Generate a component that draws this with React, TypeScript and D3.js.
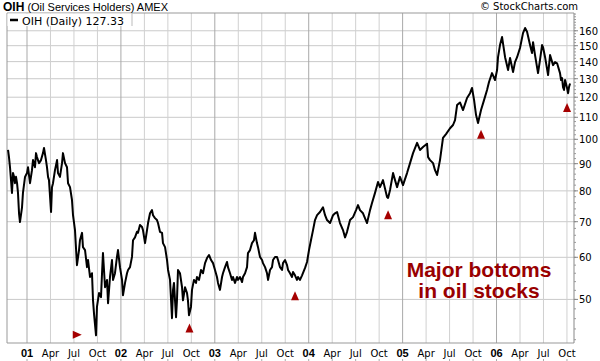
import * as d3 from "d3";

// OIH daily close: [decimal year, price]
const oih: [number, number][] = [
  [2000.798, 95.5], [2000.808, 92.6], [2000.819, 88.6], [2000.84, 79.3], [2000.851, 86.4],
  [2000.862, 85.0], [2000.872, 82.7], [2000.883, 85.0], [2000.894, 82.7], [2000.904, 79.3],
  [2000.915, 72.6], [2000.925, 69.9], [2000.947, 74.5], [2000.957, 79.3], [2000.979, 85.0],
  [2001.0, 86.4], [2001.011, 88.6], [2001.032, 82.7], [2001.053, 87.5], [2001.064, 91.4],
  [2001.085, 88.6], [2001.096, 94.2], [2001.106, 92.6], [2001.128, 90.2], [2001.149, 91.4],
  [2001.17, 94.2], [2001.181, 96.3], [2001.202, 91.4], [2001.213, 88.6], [2001.224, 85.0],
  [2001.234, 83.8], [2001.256, 73.0], [2001.266, 81.3], [2001.277, 82.7], [2001.298, 87.5],
  [2001.32, 91.4], [2001.33, 86.4], [2001.351, 85.0], [2001.373, 90.2], [2001.383, 94.2],
  [2001.405, 90.2], [2001.426, 88.6], [2001.437, 82.7], [2001.458, 81.3], [2001.479, 76.9],
  [2001.49, 72.0], [2001.511, 67.5], [2001.532, 58.0], [2001.554, 61.9], [2001.564, 64.6],
  [2001.586, 66.7], [2001.596, 62.7], [2001.618, 61.9], [2001.639, 57.5], [2001.65, 59.3],
  [2001.671, 55.1], [2001.692, 56.0], [2001.703, 49.8], [2001.714, 46.9], [2001.735, 42.8],
  [2001.745, 48.4], [2001.767, 51.4], [2001.788, 50.5], [2001.799, 56.0], [2001.809, 61.1],
  [2001.831, 52.7], [2001.852, 54.4], [2001.863, 49.2], [2001.884, 55.1], [2001.905, 59.3],
  [2001.916, 54.4], [2001.937, 56.0], [2001.958, 60.1], [2001.969, 61.9], [2001.99, 57.5],
  [2002.012, 54.4], [2002.022, 50.9], [2002.044, 53.7], [2002.065, 56.0], [2002.076, 56.8],
  [2002.097, 57.5], [2002.118, 60.1], [2002.129, 64.6], [2002.15, 65.4], [2002.171, 67.0],
  [2002.182, 66.7], [2002.203, 69.0], [2002.225, 68.4], [2002.235, 67.5], [2002.257, 63.8],
  [2002.278, 67.5], [2002.289, 69.6], [2002.31, 72.6], [2002.331, 73.6], [2002.342, 72.0],
  [2002.363, 71.1], [2002.384, 70.5], [2002.395, 69.6], [2002.416, 67.0], [2002.438, 66.7],
  [2002.448, 63.8], [2002.47, 62.7], [2002.491, 59.3], [2002.502, 56.8], [2002.523, 54.4],
  [2002.544, 46.1], [2002.555, 52.1], [2002.565, 53.7], [2002.587, 46.3], [2002.597, 49.8],
  [2002.608, 56.8], [2002.629, 56.0], [2002.651, 52.7], [2002.661, 49.8], [2002.683, 52.7],
  [2002.704, 51.4], [2002.714, 49.8], [2002.725, 46.7], [2002.746, 48.4], [2002.757, 52.1],
  [2002.778, 54.4], [2002.8, 53.7], [2002.81, 55.1], [2002.832, 54.4], [2002.853, 56.8],
  [2002.874, 56.0], [2002.896, 58.5], [2002.917, 59.8], [2002.938, 60.6], [2002.96, 59.3],
  [2002.981, 58.5], [2003.002, 56.8], [2003.023, 55.1], [2003.034, 53.7], [2003.055, 52.1],
  [2003.077, 55.1], [2003.087, 56.0], [2003.109, 57.5], [2003.13, 58.8], [2003.14, 57.5],
  [2003.162, 56.0], [2003.183, 54.4], [2003.194, 55.1], [2003.215, 53.7], [2003.236, 55.1],
  [2003.247, 54.4], [2003.268, 55.1], [2003.29, 53.9], [2003.3, 55.1], [2003.322, 56.0],
  [2003.343, 57.5], [2003.353, 61.1], [2003.375, 61.9], [2003.396, 63.8], [2003.417, 64.6],
  [2003.428, 66.7], [2003.449, 63.8], [2003.46, 62.7], [2003.481, 60.1], [2003.503, 59.3],
  [2003.513, 58.5], [2003.535, 57.5], [2003.556, 56.0], [2003.567, 54.4], [2003.588, 56.8],
  [2003.609, 57.5], [2003.62, 59.3], [2003.641, 60.1], [2003.662, 60.1], [2003.673, 59.3],
  [2003.694, 57.5], [2003.716, 56.8], [2003.726, 58.5], [2003.748, 59.3], [2003.769, 58.0],
  [2003.78, 56.8], [2003.801, 56.0], [2003.822, 55.1], [2003.833, 56.3], [2003.854, 55.5],
  [2003.875, 54.4], [2003.886, 55.1], [2003.907, 54.4], [2003.929, 55.5], [2003.961, 57.3],
  [2003.982, 58.8], [2004.003, 61.9], [2004.024, 64.6], [2004.046, 67.5], [2004.067, 70.5],
  [2004.089, 72.0], [2004.12, 73.0], [2004.152, 74.5], [2004.174, 72.0], [2004.195, 70.5],
  [2004.227, 69.6], [2004.259, 72.0], [2004.28, 72.6], [2004.302, 73.0], [2004.333, 69.6],
  [2004.365, 67.5], [2004.387, 65.4], [2004.408, 67.0], [2004.44, 70.5], [2004.472, 71.4],
  [2004.504, 73.6], [2004.525, 75.2], [2004.546, 73.6], [2004.578, 72.6], [2004.621, 69.6],
  [2004.653, 73.6], [2004.674, 75.9], [2004.706, 79.3], [2004.738, 83.1], [2004.759, 81.3],
  [2004.791, 83.8], [2004.834, 77.9], [2004.845, 77.6], [2004.866, 80.3], [2004.898, 86.4],
  [2004.919, 83.8], [2004.941, 81.3], [2004.972, 85.0], [2005.004, 82.0], [2005.047, 86.4],
  [2005.079, 90.2], [2005.111, 94.2], [2005.154, 98.5], [2005.185, 95.5], [2005.217, 96.7],
  [2005.26, 98.1], [2005.271, 92.6], [2005.292, 91.4], [2005.324, 90.2], [2005.345, 87.5],
  [2005.367, 85.7], [2005.398, 91.4], [2005.43, 100.6], [2005.462, 102.3], [2005.505, 104.9],
  [2005.537, 106.4], [2005.558, 108.7], [2005.58, 116.0], [2005.611, 117.3], [2005.643, 113.5],
  [2005.686, 119.6], [2005.718, 122.1], [2005.739, 124.9], [2005.761, 118.5], [2005.782, 111.1],
  [2005.803, 107.3], [2005.835, 113.5], [2005.867, 118.5], [2005.899, 123.8], [2005.92, 128.2],
  [2005.952, 133.2], [2005.984, 129.3], [2006.006, 135.0], [2006.016, 142.7], [2006.037, 150.4],
  [2006.059, 155.7], [2006.091, 142.7], [2006.123, 135.0], [2006.144, 142.2], [2006.176, 133.8],
  [2006.197, 139.7], [2006.219, 142.7], [2006.25, 148.5], [2006.282, 158.4], [2006.304, 161.9],
  [2006.325, 159.3], [2006.357, 150.4], [2006.378, 145.3], [2006.389, 152.3], [2006.41, 144.0],
  [2006.442, 133.2], [2006.463, 141.0], [2006.485, 150.4], [2006.495, 149.1], [2006.517, 142.7],
  [2006.549, 132.1], [2006.57, 144.0], [2006.602, 137.9], [2006.623, 139.7], [2006.645, 139.0],
  [2006.676, 133.2], [2006.687, 129.3], [2006.698, 130.4], [2006.708, 125.4], [2006.719, 123.8],
  [2006.73, 129.3], [2006.751, 124.9], [2006.762, 122.1], [2006.772, 125.4], [2006.783, 127.33],
];

// red markers under the major bottoms: [decimal year, price]
const bottoms: [number, number][] = [
  [2001.53, 42.9],
  [2002.73, 44.1],
  [2003.854, 50.7],
  [2004.845, 72.0],
  [2005.835, 102.0],
  [2006.751, 114.5],
];

const priceTicks = [50, 60, 70, 80, 90, 100, 110, 120, 130, 140, 150, 160];
const years = [2001, 2002, 2003, 2004, 2005, 2006];
const yearLabels = ["01", "02", "03", "04", "05", "06"];
const monthLabels = ["Apr", "Jul", "Oct"];

const lastClose = 127.33;

export default function App() {
  const left = 7;
  const right = 574;
  const top = 13;
  const bottom = 343;

  const x = d3.scaleLinear().domain([2000.787, 2006.825]).range([left, right]);
  const y = d3.scaleLog().domain([41.4, 172.8]).range([bottom, top]);

  const quarters = years.flatMap((yr, i) =>
    [0, 1, 2, 3].map((q) => ({
      v: yr + q / 4,
      label: q === 0 ? yearLabels[i] : monthLabels[q - 1],
      isYear: q === 0,
    }))
  );

  const minorTicks = d3.range(42, 173, 2);

  const line = d3
    .line<[number, number]>()
    .x((d) => x(d[0]))
    .y((d) => y(d[1]));

  const tri = "M0,-5L4,4L-4,4Z";
  const red = "#a50000";
  const sans = "'Liberation Sans', Arial, sans-serif";
  const dv = "'DejaVu Sans', Verdana, sans-serif";

  return (
    <svg
      width={600}
      height={361}
      style={{ position: "absolute", left: 0, top: 0, background: "#fff" }}
    >
      <defs>
        <clipPath id="plot-clip">
          <rect x={left} y={top} width={right - left} height={bottom - top} />
        </clipPath>
      </defs>

      {/* grid */}
      {priceTicks.map((p) => (
        <line key={p} x1={left} x2={right} y1={y(p)} y2={y(p)} stroke="#cacaca" />
      ))}
      {quarters.map((q) => (
        <line
          key={q.v}
          x1={x(q.v)}
          x2={x(q.v)}
          y1={top}
          y2={bottom}
          stroke={q.isYear ? "#a9a9a9" : "#d0d0d0"}
        />
      ))}

      {/* frame */}
      <line x1={left} x2={right} y1={top} y2={top} stroke="#999" />
      <line x1={left} x2={right} y1={bottom} y2={bottom} stroke="#999" />
      <line x1={left} x2={left} y1={top} y2={bottom} stroke="#999" />
      <line x1={right} x2={right} y1={top} y2={bottom} stroke="#888" />

      {/* price line */}
      <path
        d={line(oih) ?? ""}
        fill="none"
        stroke="#000"
        strokeWidth={2}
        strokeLinejoin="round"
        clipPath="url(#plot-clip)"
      />

      {/* bottoms */}
      {bottoms.map((b, i) => (
        <path
          key={i}
          d={tri}
          fill={red}
          transform={`translate(${x(b[0])},${y(b[1])})${i === 0 ? " rotate(90)" : ""}`}
        />
      ))}

      {/* legend */}
      <rect x={left + 0.5} y={top + 0.5} width={124.5} height={12.5} fill="#fff" />
      <line x1={132} x2={132} y1={top} y2={26} stroke="#bbb" />
      <line x1={10} x2={18} y1={20} y2={20} stroke="#000" strokeWidth={2.5} />
      <text x={22} y={24.5} fontFamily={dv} fontSize={11} fill="#000">
        {`OIH (Daily) ${lastClose}`}
      </text>

      {/* right axis */}
      {minorTicks.map((m) => (
        <line key={m} x1={right} x2={right + 2} y1={y(m)} y2={y(m)} stroke="#999" />
      ))}
      {priceTicks.map((p) => (
        <g key={p}>
          <line x1={right} x2={right + 4} y1={y(p)} y2={y(p)} stroke="#888" />
          <text x={579} y={y(p) + 4} fontFamily={dv} fontSize={10} fill="#000">
            {p}
          </text>
        </g>
      ))}

      {/* bottom axis */}
      {quarters.map((q) => (
        <g key={q.v}>
          <line x1={x(q.v)} x2={x(q.v)} y1={359} y2={361} stroke="#aaa" />
          <text
            x={x(q.v)}
            y={357}
            textAnchor="middle"
            fontFamily={q.isYear ? sans : dv}
            fontWeight={q.isYear ? "bold" : "normal"}
            fontSize={q.isYear ? 11 : 10}
            fill="#000"
          >
            {q.label}
          </text>
        </g>
      ))}

      {/* header */}
      <text x={3} y={11} fontFamily={sans} fill="#000">
        <tspan fontWeight="bold" fontSize={12}>OIH</tspan>
        <tspan fontSize={11}> (Oil Services Holders) AMEX</tspan>
      </text>
      <text x={578} y={10} textAnchor="end" fontFamily={dv} fontSize={10} fill="#000">
        © StockCharts.com
      </text>

      {/* annotation */}
      <text
        x={479}
        y={277}
        textAnchor="middle"
        fontFamily={sans}
        fontWeight="bold"
        fontSize={21}
        fill="#990000"
      >
        <tspan x={479}>Major bottoms</tspan>
        <tspan x={479} dy={21}>in oil stocks</tspan>
      </text>
    </svg>
  );
}
